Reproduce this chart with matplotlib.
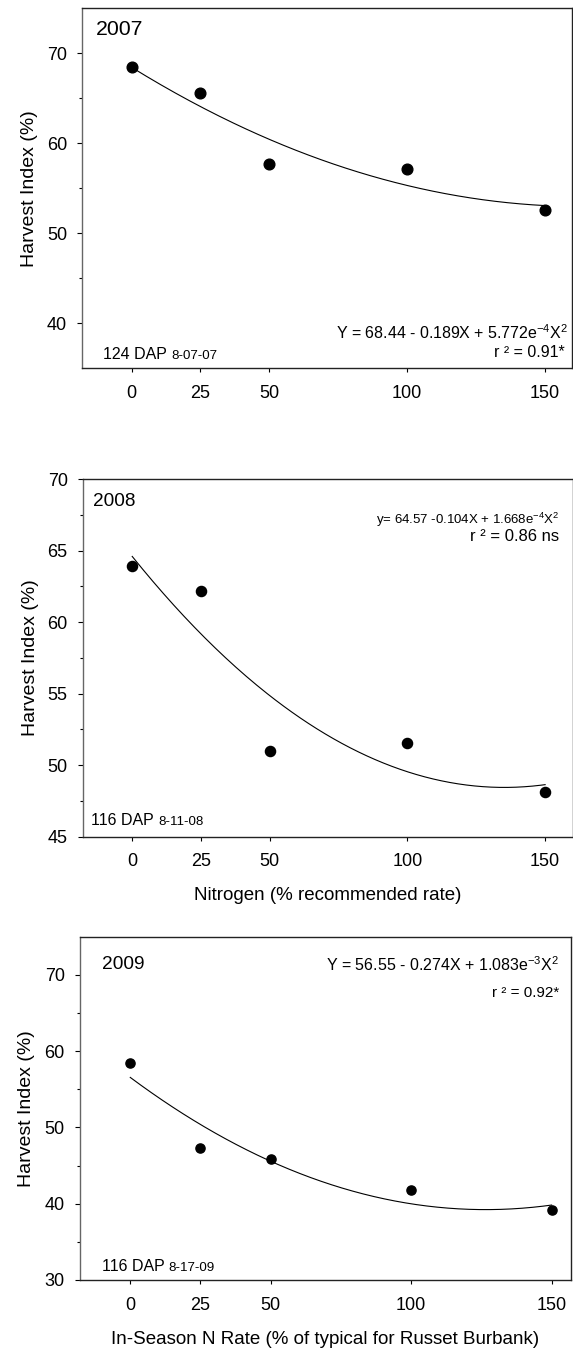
import numpy as np
import matplotlib
matplotlib.use("Agg")
import matplotlib.pyplot as plt
from matplotlib.ticker import FixedLocator

plt.rcParams['font.family'] = ['Liberation Sans', 'DejaVu Sans']
plt.rcParams['mathtext.fontset'] = 'custom'
plt.rcParams['mathtext.rm'] = 'Liberation Sans'
plt.rcParams['mathtext.it'] = 'Liberation Sans:italic'
plt.rcParams['mathtext.default'] = 'regular'

# N rate (% of recommended)
n_rate = [0, 25, 50, 100, 150]

# harvest index (%) per season
hi_2007 = [68.44, 65.63, 57.67, 57.15, 52.56]
hi_2008 = [63.95, 62.18, 51.02, 51.53, 48.15]
hi_2009 = [58.43, 47.30, 45.80, 41.77, 39.15]

# quadratic fits: a + b*X + c*X^2
fit_2007 = [68.44, -0.189, 5.772e-4]
fit_2008 = [64.60, -0.239, 8.84e-4]
fit_2009 = [56.55, -0.274, 1.083e-3]

eq_2007 = r'Y = 68.44 - 0.189X + 5.772e$^{-4}$X$^{2}$'
eq_2008 = r'y= 64.57 -0.104X + 1.668e$^{-4}$X$^{2}$'
eq_2009 = r'Y = 56.55 - 0.274X + 1.083e$^{-3}$X$^{2}$'
r2_2007 = 'r ² = 0.91*'
r2_2008 = 'r ² = 0.86 ns'
r2_2009 = 'r ² = 0.92*'

fig = plt.figure(figsize=(5.73, 13.53), dpi=100)

panels = [
    dict(rect=[0.1431, 0.7278, 0.856, 0.2661], y=hi_2007, fit=fit_2007,
         ylim=(35, 75), yticks=[40, 50, 60, 70], yminor=[45, 55, 65],
         xlim=(-18, 160), year='2007', year_xy=(0.0285, 0.94), year_fs=15.3,
         eq=eq_2007, eq_xy=(0.991, 0.081), eq_fs=11.5,
         r2=r2_2007, r2_xy=(0.985, 0.030), r2_fs=11.5,
         dap='124 DAP', date='8-07-07', dap_xy=(0.0434, 0.027), ms=7.7,
         xlabel=None),
    dict(rect=[0.1443, 0.3816, 0.8551, 0.2642], y=hi_2008, fit=fit_2008,
         ylim=(45, 70), yticks=[45, 50, 55, 60, 65, 70],
         yminor=[47.5, 52.5, 57.5, 62.5, 67.5],
         xlim=(-18, 160), year='2008', year_xy=(0.0204, 0.937), year_fs=13.7,
         eq=eq_2008, eq_xy=(0.972, 0.875), eq_fs=9.5,
         r2=r2_2008, r2_xy=(0.972, 0.828), r2_fs=12,
         dap='116 DAP', date='8-11-08', dap_xy=(0.017, 0.033), ms=7.3,
         xlabel='Nitrogen (% recommended rate)', xlabel_y=-0.14),
    dict(rect=[0.1391, 0.054, 0.8579, 0.2537], y=hi_2009, fit=fit_2009,
         ylim=(30, 75), yticks=[30, 40, 50, 60, 70], yminor=[35, 45, 55, 65],
         xlim=(-18, 157), year='2009', year_xy=(0.0446, 0.918), year_fs=13.8,
         eq=eq_2009, eq_xy=(0.975, 0.90), eq_fs=11.5,
         r2=r2_2009, r2_xy=(0.975, 0.823), r2_fs=11,
         dap='116 DAP', date='8-17-09', dap_xy=(0.0446, 0.026), ms=6.6,
         xlabel='In-Season N Rate (% of typical for Russet Burbank)', xlabel_y=-0.15),
]

xs = np.linspace(0, 150, 200)

for p in panels:
    ax = fig.add_axes(p['rect'])
    a, b, c = p['fit']
    ax.plot(xs, a + b * xs + c * xs ** 2, color='black', lw=0.8)
    ax.plot(n_rate, p['y'], 'o', color='black', ms=p['ms'])

    ax.set_xlim(*p['xlim'])
    ax.set_ylim(*p['ylim'])
    ax.set_xticks(n_rate)
    ax.set_yticks(p['yticks'])
    ax.yaxis.set_minor_locator(FixedLocator(p['yminor']))
    ax.tick_params(axis='y', which='major', direction='out', length=3.8,
                   width=0.8, pad=7, labelsize=13)
    ax.tick_params(axis='y', which='minor', direction='out', length=2.2, width=0.8)
    ax.tick_params(axis='x', direction='out', length=3, width=0.8, pad=9,
                   labelsize=13)

    for side in ['top', 'right', 'bottom']:
        ax.spines[side].set_color('#222222')
        ax.spines[side].set_linewidth(1.0)
    ax.spines['left'].set_color('#666666')
    ax.spines['left'].set_linewidth(1.0)

    ax.set_ylabel('Harvest Index (%)', fontsize=14)
    ax.yaxis.set_label_coords(-0.09, 0.5)
    if p['xlabel']:
        ax.set_xlabel(p['xlabel'], fontsize=13.5)
        ax.xaxis.set_label_coords(0.5, p['xlabel_y'])

    ax.text(*p['year_xy'], p['year'], transform=ax.transAxes, fontsize=p['year_fs'],
            ha='left', va='center')
    ax.text(*p['eq_xy'], p['eq'], transform=ax.transAxes, fontsize=p['eq_fs'],
            ha='right', va='baseline')
    ax.text(*p['r2_xy'], p['r2'], transform=ax.transAxes, fontsize=p['r2_fs'],
            ha='right', va='baseline')
    t = ax.text(*p['dap_xy'], p['dap'], transform=ax.transAxes, fontsize=11.5,
                ha='left', va='baseline')
    ax.annotate(p['date'], xy=(1, p['dap_xy'][1]), xycoords=(t, 'axes fraction'),
                xytext=(3, 0), textcoords='offset points', fontsize=9.6,
                ha='left', va='baseline')

fig.savefig('out.png', dpi=100)
